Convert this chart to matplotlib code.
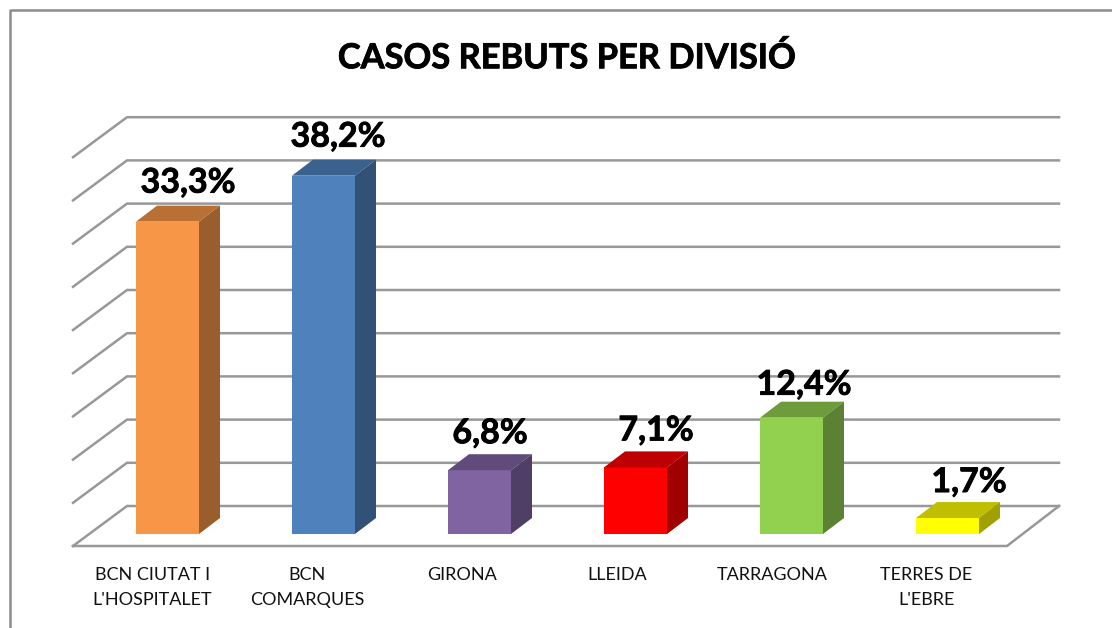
import matplotlib
matplotlib.use("Agg")
import matplotlib.pyplot as plt
import matplotlib.patheffects as pe
from matplotlib.patches import Polygon, Rectangle

plt.rcParams['font.family'] = ['Lato', 'DejaVu Sans']

title = "CASOS REBUTS PER DIVISIÓ"
categories = ["BCN CIUTAT I\nL'HOSPITALET", "BCN\nCOMARQUES", "GIRONA", "LLEIDA", "TARRAGONA", "TERRES DE\nL'EBRE"]
values = [33.3, 38.2, 6.8, 7.1, 12.4, 1.7]
labels = ["33,3%", "38,2%", "6,8%", "7,1%", "12,4%", "1,7%"]
front_colors = ["#F79646", "#4F81BD", "#8064A2", "#FF0000", "#92D050", "#FFFF00"]
top_colors = ["#B97035", "#3B618E", "#604B7A", "#BF0000", "#6E9C3C", "#BFBF00"]
side_colors = ["#9A5D2C", "#315176", "#503F65", "#A00000", "#5B8232", "#A0A000"]
grid_steps = 10

# pixel geometry of the fake 3d box
base_y = 534
px_per_pct = 9.38
bar_x0 = 136
bar_w = 63
bar_gap = 156
depth_x = 21
depth_y = 16
grid_col = "#989898"

# the data labels are not placed evenly in the original
label_dx = [52, 46, 42, 52, 44, 53]
label_dy = [-39, -39, -37, -37, -33, -36]
heavier = [pe.withStroke(linewidth=0.6, foreground="black")]

fig = plt.figure(figsize=(11.12, 6.28), dpi=100)
ax = fig.add_axes([0, 0, 1, 1])
ax.set_xlim(0, 1112)
ax.set_ylim(628, 0)
ax.axis("off")

# outer frame
ax.plot([9.5, 9.5, 1112], [628, 9.5, 9.5], color="#8c8c8c", lw=1.8)

# walls and floor
for i in range(grid_steps):
    y_back = 506 - i * 43.2
    y_front = y_back + 40
    ax.plot([73, 127, 1059], [y_front, y_back, y_back], color=grid_col, lw=1.8, solid_joinstyle="miter")
ax.plot([73, 1007, 1059], [546, 546, 506], color=grid_col, lw=1.8, solid_joinstyle="miter")

for i, v in enumerate(values):
    x0 = bar_x0 + i * bar_gap
    x1 = x0 + bar_w
    top = base_y - v * px_per_pct
    ax.add_patch(Rectangle((x0, top), bar_w, base_y - top, fc=front_colors[i], ec="none", zorder=3))
    ax.add_patch(Polygon([(x0, top), (x1, top), (x1 + depth_x, top - depth_y), (x0 + depth_x, top - depth_y)],
                         fc=top_colors[i], ec="none", zorder=3))
    ax.add_patch(Polygon([(x1, top), (x1 + depth_x, top - depth_y), (x1 + depth_x, base_y - depth_y), (x1, base_y)],
                         fc=side_colors[i], ec="none", zorder=3))
    ax.text(x0 + label_dx[i], top + label_dy[i], labels[i], fontsize=24.5, fontweight="bold",
            ha="center", va="center", zorder=4, path_effects=heavier)
    ax.text(152.5 + i * 154.8, 567, categories[i], fontsize=13, ha="center", va="top", linespacing=1.7, color="#111111")

ax.text(567, 58, title, fontsize=24.8, fontweight="bold", ha="center", va="center", path_effects=heavier)

fig.savefig("out.png", dpi=100)
